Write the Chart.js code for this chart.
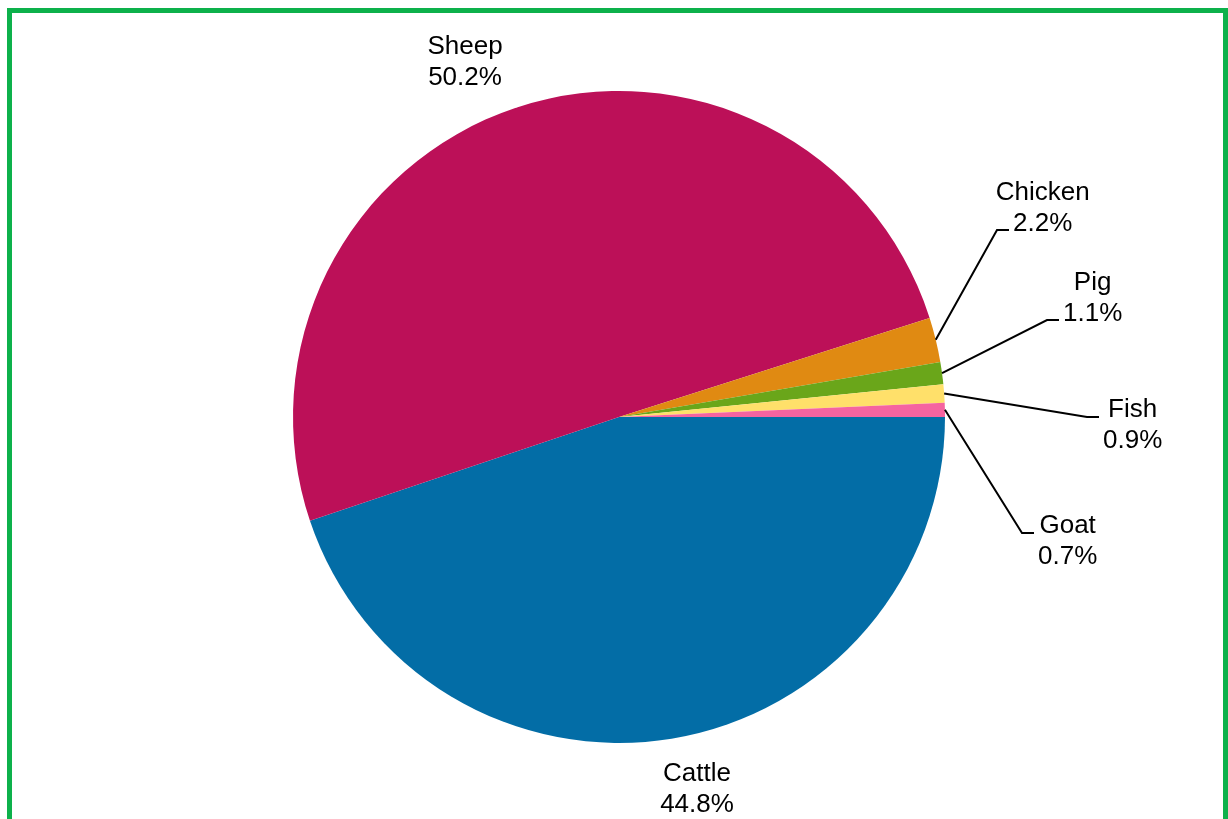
<!DOCTYPE html>
<html>
<head>
<meta charset="utf-8">
<script src="https://cdn.jsdelivr.net/npm/chart.js@4/dist/chart.umd.min.js"></script>
<style>
    html, body { margin: 0; padding: 0; background: #fff; overflow: hidden; }
    #wrap { position: relative; width: 1228px; height: 819px; }
    #frame {
        position: absolute; left: 7px; top: 8px; width: 1211px; height: 900px;
        border: 5px solid #0db14b; box-sizing: content-box; pointer-events: none;
    }
    canvas { position: absolute; left: 0; top: 0; }
</style>
</head>
<body>
<div id="wrap">
    <canvas id="pie" width="1228" height="819"></canvas>
    <div id="frame"></div>
</div>
<script>
// Anteile je Tierart (Prozent)
var animals = ['Cattle', 'Sheep', 'Chicken', 'Pig', 'Fish', 'Goat'];
var shares = [44.8, 50.2, 2.2, 1.1, 0.9, 0.7];
var sliceColors = ['#036da6', '#bc1058', '#e08a12', '#6aa61a', '#ffe06a', '#f564a0'];

// Beschriftungs-Layout: Blockmitte (grosse Stücke) bzw. Knickpunkt der Linie (kleine Stücke),
// relativ zum Kreismittelpunkt.
var labelLayout = [
    { dx: 78, dy: 368, leader: false },
    { dx: -154, dy: -359, leader: false },
    { dx: 378, dy: -187, leader: true },
    { dx: 428, dy: -97, leader: true },
    { dx: 468, dy: 0, leader: true },
    { dx: 403, dy: 116, leader: true }
];

var FONT = '26px "Liberation Sans", Arial, sans-serif';
var LINE_H = 31;

var pieLabels = {
    id: 'pieLabels',
    afterDatasetsDraw: function (chart) {
        var ctx = chart.ctx;
        var arcs = chart.getDatasetMeta(0).data;
        ctx.save();
        ctx.font = FONT;
        ctx.fillStyle = '#000';
        ctx.strokeStyle = '#000';
        ctx.lineWidth = 2;
        ctx.textBaseline = 'alphabetic';

        arcs.forEach(function (arc, i) {
            var cx = arc.x, cy = arc.y;
            var lay = labelLayout[i];
            var name = animals[i];
            var pct = shares[i].toFixed(1) + '%';

            if (!lay.leader) {
                var bx = cx + lay.dx, by = cy + lay.dy;
                ctx.textAlign = 'center';
                ctx.fillText(name, bx, by - 4);
                ctx.fillText(pct, bx, by - 4 + LINE_H);
                return;
            }

            var mid = (arc.startAngle + arc.endAngle) / 2;
            var ax = cx + Math.cos(mid) * arc.outerRadius;
            var ay = cy + Math.sin(mid) * arc.outerRadius;
            var ex = cx + lay.dx, ey = cy + lay.dy;
            var hx = ex + 12;

            ctx.beginPath();
            ctx.moveTo(ax, ay);
            ctx.lineTo(ex, ey);
            ctx.lineTo(hx, ey);
            ctx.stroke();

            var pw = ctx.measureText(pct).width;
            var tx = hx + 4 + pw / 2;
            // Oberhalb: Linie endet an der Unterkante, sonst zwischen den Zeilen.
            var base2 = lay.dy < 0 ? ey + 1 : ey + LINE_H;
            ctx.textAlign = 'center';
            ctx.fillText(name, tx, base2 - LINE_H);
            ctx.fillText(pct, tx, base2);
        });
        ctx.restore();
    }
};

new Chart(document.getElementById('pie').getContext('2d'), {
    type: 'pie',
    data: {
        labels: animals,
        datasets: [{
            data: shares,
            backgroundColor: sliceColors,
            borderWidth: 0
        }]
    },
    options: {
        responsive: false,
        animation: false,
        rotation: 90,
        layout: { padding: { top: 91, bottom: 76, left: 293, right: 283 } },
        plugins: {
            legend: { display: false },
            tooltip: { enabled: false }
        }
    },
    plugins: [pieLabels]
});
</script>
</body>
</html>
